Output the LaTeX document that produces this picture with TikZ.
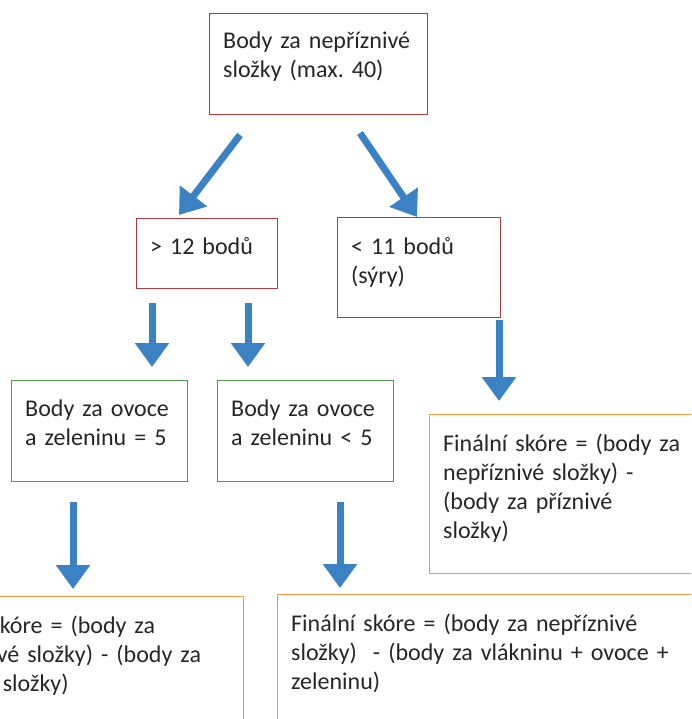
\documentclass[tikz,border=0pt]{standalone}
\usepackage{fontspec}
\setmainfont{Carlito}
\frenchspacing
\usetikzlibrary{arrows.meta}
\definecolor{boxred}{RGB}{178,58,58}
\definecolor{boxgreen}{RGB}{84,148,84}
\definecolor{boxorange}{RGB}{247,150,70}
\definecolor{arrowblue}{RGB}{59,130,196}
\definecolor{txtgray}{RGB}{38,38,38}
\tikzset{
  boxbase/.style={rectangle, line width=1.2pt, anchor=north west, inner sep=0pt},
  redbox/.style={boxbase, draw=boxred},
  greenbox/.style={boxbase, draw=boxgreen},
  orangebox/.style={boxbase, draw=boxorange},
  txt/.style={anchor=base west, inner sep=0pt, align=left, text width=460pt,
    text=txtgray, font=\fontsize{24pt}{29pt}\selectfont},
  bigarrow/.style={draw=arrowblue, line width=7pt,
    -{Triangle[width=33pt,length=24pt]}, fill=arrowblue}
}
\begin{document}
\begin{tikzpicture}[x=1pt,y=-1pt]
\useasboundingbox (0,0) rectangle (691,719);
\clip (0,0) rectangle (691,719);
% boxes
\node[redbox, minimum width=218pt, minimum height=101pt] (top) at (209,13) {};
\node[redbox, minimum width=141pt, minimum height=70pt] (gt) at (136,218) {};
\node[redbox, minimum width=163pt, minimum height=100pt] (lt) at (337,217) {};
\node[greenbox, minimum width=176pt, minimum height=101pt] (eq) at (11,380) {};
\node[greenbox, minimum width=176pt, minimum height=101pt] (less) at (217,380) {};
\node[orangebox, minimum width=280pt, minimum height=159pt] (finr) at (429,414) {};
\node[orangebox, minimum width=339pt, minimum height=140pt] (finl) at (-96,596) {};
\node[orangebox, minimum width=430pt, minimum height=140pt] (finm) at (277,594) {};
% texts
\node[txt] (topt) at ([shift={(14pt,-36pt)}]top.north west) {Body za nepříznivé\\složky (max. 40)};
\node[txt] (gtt) at ([shift={(14pt,-36pt)}]gt.north west) {> 12 bodů};
\node[txt] (ltt) at ([shift={(14pt,-37pt)}]lt.north west) {< 11 bodů\\(sýry)};
\node[txt] (eqt) at ([shift={(14pt,-36pt)}]eq.north west) {Body za ovoce\\a zeleninu = 5};
\node[txt] (lesst) at ([shift={(14pt,-36pt)}]less.north west) {Body za ovoce\\a zeleninu < 5};
\node[txt] (finrt) at ([shift={(14pt,-37pt)}]finr.north west) {Finální skóre = (body za\\nepříznivé složky) -\\(body za příznivé\\složky)};
\node[txt] (finlt) at ([shift={(14pt,-37pt)}]finl.north west) {Finální skóre = (body za\\nepříznivé složky) - (body za\\příznivé složky)};
\node[txt] (finmt) at ([shift={(14pt,-37pt)}]finm.north west) {Finální skóre = (body za nepříznivé\\složky)~ - (body za vlákninu + ovoce +\\zeleninu)};
% arrow end points
\coordinate (a1s) at (240,135); \coordinate (a1e) at (179,215);
\coordinate (a2s) at (360,133); \coordinate (a2e) at (417,217);
\coordinate (a3s) at (152,303); \coordinate (a3e) at (152,367);
\coordinate (a4s) at (248,303); \coordinate (a4e) at (248,367);
\coordinate (a5s) at (499,320); \coordinate (a5e) at (499,401);
\coordinate (a6s) at (73,502);  \coordinate (a6e) at (73,589);
\coordinate (a7s) at (340,502); \coordinate (a7e) at (340,588);
\draw[bigarrow] (a1s) -- (a1e);
\draw[bigarrow] (a2s) -- (a2e);
\draw[bigarrow] (a3s) -- (a3e);
\draw[bigarrow] (a4s) -- (a4e);
\draw[bigarrow] (a5s) -- (a5e);
\draw[bigarrow] (a6s) -- (a6e);
\draw[bigarrow] (a7s) -- (a7e);
\end{tikzpicture}
\end{document}
